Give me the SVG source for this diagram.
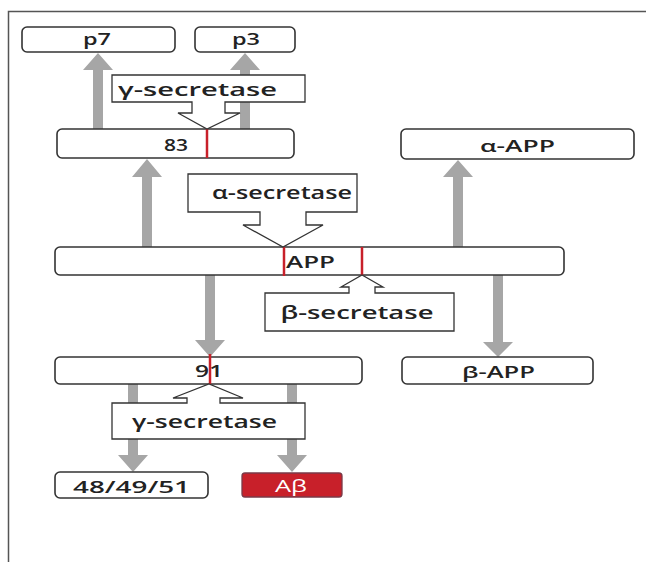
<svg xmlns="http://www.w3.org/2000/svg" width="646" height="562" viewBox="0 0 646 562">
<style>
.box{fill:#fff;stroke:#333;stroke-width:1.6}
.call{fill:#fff;stroke:#333;stroke-width:1.3}
.arrow{fill:#a6a6a6}
.cut{stroke:#c8202a;stroke-width:2.5}
text{font-family:"Open Sans","Liberation Sans",sans-serif;font-weight:600;fill:#222;text-anchor:middle}
.lg{font-size:18px}
.md{font-size:17px}
</style>
<rect width="646" height="562" fill="#fff"/>
<path d="M8.5,562 V11.5 H646" fill="none" stroke="#555" stroke-width="1.5"/>

<g id="connectors">
  <path class="arrow" d="M93,129 V70 H83 L98,53 L113,70 H103 V129 Z"/>
  <path class="arrow" d="M240,129 V70 H230 L245,53 L260,70 H250 V129 Z"/>
  <path class="arrow" d="M142,247 V177 H132 L147,159 L162,177 H152 V247 Z"/>
  <path class="arrow" d="M453,247 V177 H443 L458,160 L473,177 H463 V247 Z"/>
  <path class="arrow" d="M205,275 V340 H195 L210,357 L225,340 H215 V275 Z"/>
  <path class="arrow" d="M493,275 V342 H483 L498,357 L513,342 H503 V275 Z"/>
  <path class="arrow" d="M128,384 V455 H118 L133,472 L148,455 H138 V384 Z"/>
  <path class="arrow" d="M287,384 V455 H277 L292,472 L307,455 H297 V384 Z"/>
</g>

<g id="p7"><rect class="box" x="22" y="27" width="153" height="25" rx="5"/><text class="md" x="97" y="45" textLength="28" lengthAdjust="spacingAndGlyphs">p7</text></g>
<g id="p3"><rect class="box" x="195" y="27" width="100" height="25" rx="5"/><text class="md" x="246" y="45" textLength="28" lengthAdjust="spacingAndGlyphs">p3</text></g>

<g id="n83"><rect class="box" x="57" y="129" width="237" height="29" rx="5"/><text class="md" x="176" y="151" textLength="24" lengthAdjust="spacingAndGlyphs">83</text><line class="cut" x1="207" y1="129" x2="207" y2="158"/></g>

<g id="gamma-top"><path class="call" d="M112,75 H305 V102 H225 V113 H240 L207,129 L178,113 H192 V102 H112 Z"/><text class="lg" x="197.5" y="96" textLength="159" lengthAdjust="spacingAndGlyphs">γ-secretase</text></g>

<g id="alpha-APP"><rect class="box" x="401" y="129" width="233" height="30" rx="5"/><text class="md" x="517.5" y="152" textLength="75" lengthAdjust="spacingAndGlyphs">α-APP</text></g>

<g id="APP"><rect class="box" x="55" y="247" width="509" height="28" rx="5"/><text class="md" x="310.5" y="268" textLength="49" lengthAdjust="spacingAndGlyphs">APP</text><line class="cut" x1="284" y1="247" x2="284" y2="276"/><line class="cut" x1="362" y1="247" x2="362" y2="275"/></g>

<g id="alpha-secretase"><path class="call" d="M188,174 H357 V212 H306 V225 H323 L283,247 L243,225 H260 V212 H188 Z"/><text class="lg" x="282" y="199" textLength="140" lengthAdjust="spacingAndGlyphs">α-secretase</text></g>

<g id="beta-secretase"><path class="call" d="M265,293 H349 V287 H341 L362,275 L383,287 H375 V293 H454 V331 H265 Z"/><text class="lg" x="357" y="319" textLength="153" lengthAdjust="spacingAndGlyphs">β-secretase</text></g>

<g id="n91"><rect class="box" x="55" y="357" width="307" height="27" rx="5"/><text class="md" x="209" y="377" textLength="28" lengthAdjust="spacingAndGlyphs">91</text><line class="cut" x1="210" y1="354" x2="210" y2="384"/></g>

<g id="beta-APP"><rect class="box" x="402" y="357" width="191" height="27" rx="5"/><text class="md" x="498.5" y="378" textLength="73" lengthAdjust="spacingAndGlyphs">β-APP</text></g>

<g id="gamma-bottom"><path class="call" d="M112,403 H187 V398 H173 L209,384 L243,398 H220 V403 H305 V439 H112 Z"/><text class="lg" x="204.5" y="428" textLength="145" lengthAdjust="spacingAndGlyphs">γ-secretase</text></g>

<g id="n48-49-51"><rect class="box" x="55" y="472" width="153" height="26" rx="5"/><text class="md" x="131.5" y="493" textLength="117" lengthAdjust="spacingAndGlyphs">48/49/51</text></g>

<g id="Abeta"><rect x="242" y="473" width="100" height="24" rx="3" fill="#c8202a" stroke="#7a3a48" stroke-width="1.3"/><text class="md" x="291" y="492" textLength="32" lengthAdjust="spacingAndGlyphs" style="fill:#fff;font-weight:400">Aβ</text></g>
</svg>
